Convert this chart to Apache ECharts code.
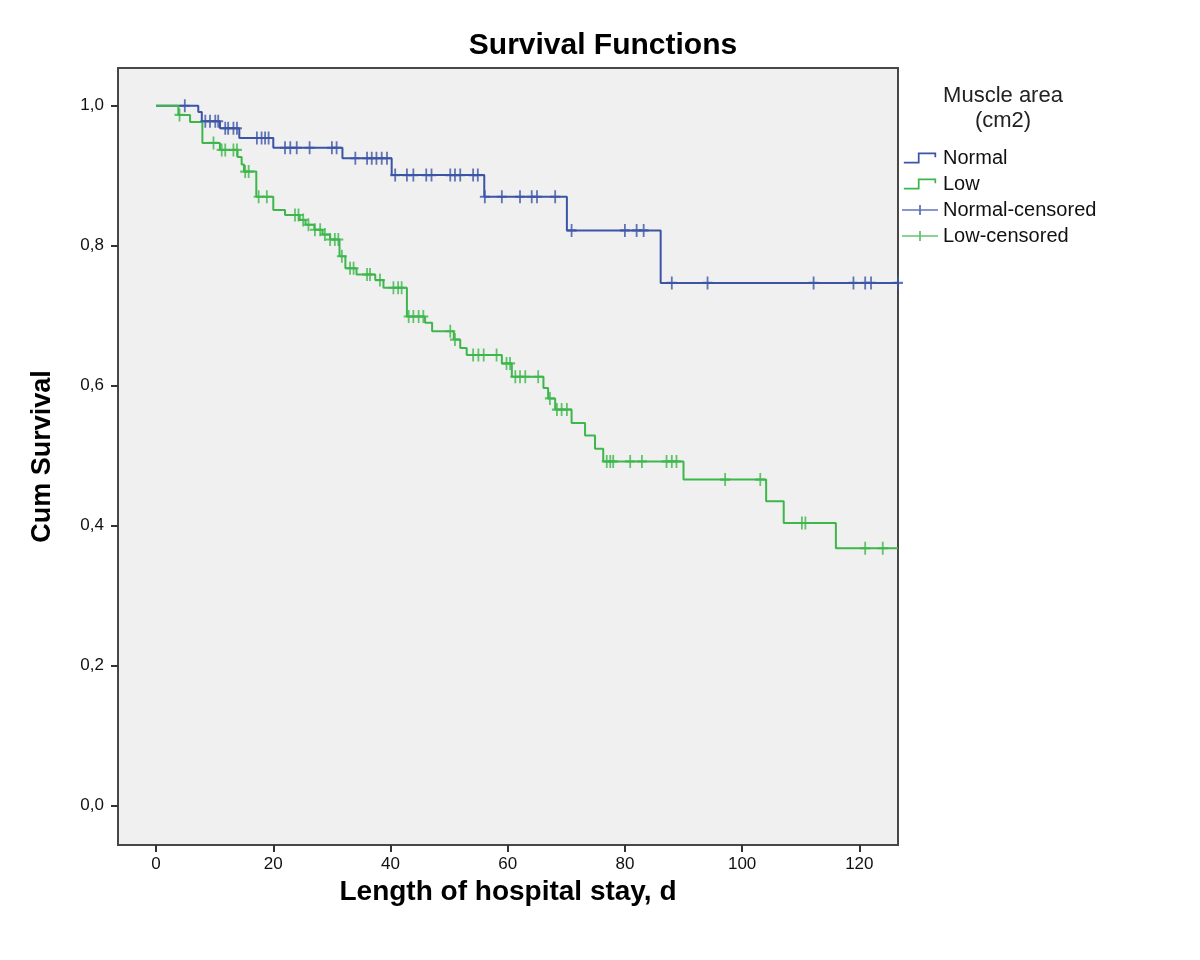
<!DOCTYPE html>
<html>
<head>
<meta charset="utf-8">
<script src="https://cdn.jsdelivr.net/npm/echarts@6/dist/echarts.min.js"></script>
<style>
html,body{margin:0;padding:0;background:#fff;}
#chart{width:1200px;height:960px;}
</style>
</head>
<body>
<div id="chart"></div>
<script>
// ---- Data ----
// Step curves: [time (days), cumulative survival after the event at that time]
const normalTimes = [0, 7.2, 7.8, 10.9, 14.2, 20.0, 31.8, 40.2, 56.0, 70.1, 86.1, 126.6];
const normalSurv  = [1.0, 0.991, 0.978, 0.968, 0.954, 0.940, 0.925, 0.901, 0.870, 0.822, 0.747, 0.747];

const lowTimes = [0, 3.8, 5.8, 7.9, 10.9, 13.9, 14.6, 15.0, 17.1, 20.0, 22.0, 24.5, 25.5, 27.0, 28.4, 29.7,
  31.3, 32.3, 34.2, 37.4, 38.8, 42.8, 45.9, 47.1, 50.8, 51.9, 53.0, 59.0, 60.7, 66.1, 66.9, 68.1,
  70.9, 73.2, 74.9, 76.3, 90.0, 104.1, 107.1, 116.0, 126.6];
const lowSurv = [1.0, 0.987, 0.977, 0.947, 0.937, 0.927, 0.916, 0.906, 0.870, 0.851, 0.844, 0.837, 0.830, 0.823, 0.816, 0.809,
  0.785, 0.768, 0.759, 0.751, 0.740, 0.699, 0.690, 0.678, 0.666, 0.654, 0.644, 0.632, 0.613, 0.597, 0.582, 0.566,
  0.547, 0.529, 0.510, 0.492, 0.466, 0.435, 0.404, 0.368, 0.368];

// Censored observation times
const normalCensored = [4.9, 8.4, 9.2, 10.1, 10.6, 11.8, 12.3, 13.2, 13.8, 17.2, 18.0, 18.6, 19.2, 22.0, 22.9, 24.0,
  26.2, 30.0, 30.8, 34.0, 36.0, 36.8, 37.6, 38.5, 39.4, 40.8, 42.8, 43.9, 46.1, 47.0, 50.2, 51.0, 51.9, 54.1, 54.9,
  56.1, 59.0, 62.1, 64.1, 65.0, 68.1, 70.9, 80.0, 82.0, 83.2, 88.0, 94.1, 112.2, 119.0, 121.0, 122.0, 126.6];
const lowCensored = [4.0, 9.8, 11.2, 11.8, 13.2, 13.8, 15.2, 15.8, 17.5, 18.9, 23.7, 24.3, 25.1, 26.0, 27.1, 28.0, 28.8,
  29.7, 30.5, 31.1, 31.7, 33.1, 33.7, 36.0, 36.5, 38.2, 40.5, 41.3, 41.9, 43.1, 43.9, 44.8, 45.6, 50.2, 51.0, 54.1,
  55.0, 55.9, 58.1, 59.8, 60.4, 61.3, 62.1, 63.0, 65.2, 67.2, 68.4, 69.2, 70.1, 76.9, 77.5, 78.0, 80.9, 82.9, 87.1,
  88.0, 88.8, 97.1, 103.1, 110.2, 110.8, 121.0, 124.0];

const xTicks = [0, 20, 40, 60, 80, 100, 120];
const yTicks = [0, 0.2, 0.4, 0.6, 0.8, 1.0];

const seriesNames = ['Normal', 'Low', 'Normal-censored', 'Low-censored'];
const legendTitle = 'Muscle area\n(cm2)';

// ---- Build ----
const BLUE = '#3b54a6';
const GREEN = '#3db64b';

function stepPairs(ts, ss) { return ts.map((t, i) => [t, ss[i]]); }
function survAt(ts, ss, t) {
  let v = ss[0];
  for (let i = 0; i < ts.length; i++) { if (ts[i] <= t) v = ss[i]; else break; }
  return v;
}
function censorPairs(cs, ts, ss) { return cs.map(t => [t, survAt(ts, ss, t)]); }

const plusPath = 'path://M4.1,0h1.8v4.2h4.1v1.6h-4.1v4.2h-1.8v-4.2h-4.1v-1.6h4.1z';
const stepIcon = 'path://M0,8.6h13v-8.6h17v4.5h-1.6v-2.9h-13.8v8.6h-14.6z';
const censIcon = 'path://M0,4.2h17.1v-4.2h1.8v4.2h17.1v1.6h-17.1v4.2h-1.8v-4.2h-17.1z';

const FONT = '"Liberation Sans", Arial, sans-serif';

const chart = echarts.init(document.getElementById('chart'), null, { renderer: 'canvas' });
chart.setOption({
  backgroundColor: '#ffffff',
  animation: false,
  title: {
    text: 'Survival Functions',
    left: 598, top: 26, textAlign: 'center',
    textStyle: { fontFamily: FONT, fontWeight: 'bold', fontSize: 30, color: '#000' }
  },
  grid: {
    left: 118, top: 68, width: 780, height: 777,
    show: true, backgroundColor: '#f0f0f0', borderColor: '#474747', borderWidth: 2
  },
  xAxis: {
    type: 'value', min: -6.5, max: 126.6,
    name: 'Length of hospital stay, d', nameLocation: 'middle', nameGap: 33,
    nameTextStyle: { fontFamily: FONT, fontWeight: 'bold', fontSize: 28, color: '#000' },
    axisLine: { show: true, onZero: false, lineStyle: { color: '#474747', width: 2 } },
    axisTick: { show: true, customValues: xTicks, length: 7, lineStyle: { color: '#333', width: 2 } },
    axisLabel: { customValues: xTicks, fontFamily: FONT, fontSize: 17, color: '#111', margin: 11 },
    splitLine: { show: false }
  },
  yAxis: {
    type: 'value', min: -0.056, max: 1.054,
    name: 'Cum Survival', nameLocation: 'middle', nameGap: 62, nameRotate: 90,
    nameTextStyle: { fontFamily: FONT, fontWeight: 'bold', fontSize: 27, color: '#000' },
    axisLine: { show: true, onZero: false, lineStyle: { color: '#474747', width: 2 } },
    axisTick: { show: true, customValues: yTicks, length: 7, lineStyle: { color: '#333', width: 2 } },
    axisLabel: {
      customValues: yTicks, fontFamily: FONT, fontSize: 17, color: '#111', margin: 14,
      formatter: v => v.toFixed(1).replace('.', ',')
    },
    splitLine: { show: false }
  },
  legend: {
    orient: 'vertical', left: 902, top: 148, padding: 0,
    itemWidth: 36, itemHeight: 11, itemGap: 6,
    textStyle: { fontFamily: FONT, fontSize: 20, color: '#111' },
    data: [
      { name: seriesNames[0], icon: stepIcon, itemStyle: { color: BLUE } },
      { name: seriesNames[1], icon: stepIcon, itemStyle: { color: GREEN } },
      { name: seriesNames[2], icon: censIcon, itemStyle: { color: BLUE } },
      { name: seriesNames[3], icon: censIcon, itemStyle: { color: GREEN } }
    ]
  },
  graphic: [{
    type: 'text', x: 1003, y: 83,
    style: { text: legendTitle, textAlign: 'center', textVerticalAlign: 'top', fontFamily: FONT, fontSize: 22, fill: '#222', lineHeight: 25 }
  }],
  series: [
    {
      name: seriesNames[0], type: 'line', step: 'end', showSymbol: false, symbol: 'none',
      data: stepPairs(normalTimes, normalSurv), color: BLUE,
      lineStyle: { color: BLUE, width: 2 }, z: 3
    },
    {
      name: seriesNames[1], type: 'line', step: 'end', showSymbol: false, symbol: 'none',
      data: stepPairs(lowTimes, lowSurv), color: GREEN,
      lineStyle: { color: GREEN, width: 2 }, z: 3
    },
    {
      name: seriesNames[2], type: 'scatter', symbol: plusPath, symbolSize: [10, 13],
      data: censorPairs(normalCensored, normalTimes, normalSurv), color: BLUE,
      itemStyle: { color: BLUE }, z: 4
    },
    {
      name: seriesNames[3], type: 'scatter', symbol: plusPath, symbolSize: [10, 13],
      data: censorPairs(lowCensored, lowTimes, lowSurv), color: GREEN,
      itemStyle: { color: GREEN }, z: 4
    }
  ]
});
</script>
</body>
</html>
